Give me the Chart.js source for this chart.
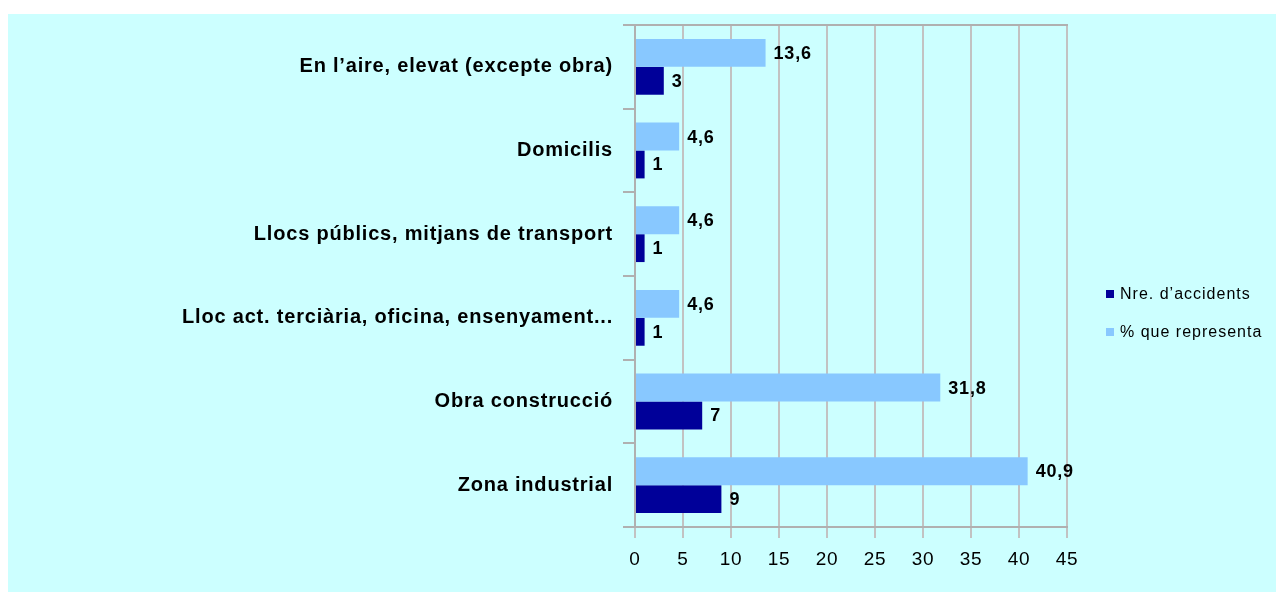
<!DOCTYPE html>
<html>
<head>
<meta charset="utf-8">
<script src="https://cdn.jsdelivr.net/npm/chart.js@4.4.1/dist/chart.umd.min.js"></script>
<style>
  html, body { margin: 0; padding: 0; background: #ffffff; }
  #wrap { width: 1276px; height: 592px; }
</style>
</head>
<body>
<div id="wrap"><canvas id="c" width="1276" height="592"></canvas></div>
<script>
const categories = [
  "En l\u2019aire, elevat (excepte obra)",
  "Domicilis",
  "Llocs públics, mitjans de transport",
  "Lloc act. terciària, oficina, ensenyament...",
  "Obra construcció",
  "Zona industrial"
];
const seriesNames = ["Nre. d\u2019accidents", "% que representa"];
const nreAccidents = [3, 1, 1, 1, 7, 9];
const percentatge = [13.6, 4.6, 4.6, 4.6, 31.8, 40.9];
const xTicks = [0, 5, 10, 15, 20, 25, 30, 35, 40, 45];

const DARK = '#000099';
const LIGHT = '#88C8FF';
const GRID = '#c2c2c2';
const BORDER = '#b0b0b0';
const FONT = 'Arial, "Liberation Sans", sans-serif';

const spacingPlugin = {
  id: 'spacing',
  beforeInit(chart) { chart.ctx.letterSpacing = '0.8px'; },
  beforeUpdate(chart) { chart.ctx.letterSpacing = '0.8px'; },
  beforeLayout(chart) { chart.ctx.letterSpacing = '0.8px'; },
  beforeDraw(chart) {
    const ctx = chart.ctx;
    ctx.letterSpacing = '0.8px';
    ctx.save();
    ctx.fillStyle = '#ffffff';
    ctx.fillRect(0, 0, chart.width, chart.height);
    ctx.fillStyle = '#CCFFFF';
    ctx.fillRect(8, 14, chart.width - 8, chart.height - 14);
    ctx.restore();
  }
};

const valueLabelPlugin = {
  id: 'valueLabels',
  afterDatasetsDraw(chart) {
    const ctx = chart.ctx;
    ctx.save();
    ctx.letterSpacing = '0.8px';
    ctx.font = 'bold 18px ' + FONT;
    ctx.fillStyle = '#000000';
    ctx.textAlign = 'left';
    ctx.textBaseline = 'middle';
    chart.data.datasets.forEach((ds, di) => {
      const meta = chart.getDatasetMeta(di);
      meta.data.forEach((el, i) => {
        const v = ds.data[i];
        const txt = String(v).replace('.', ',');
        ctx.fillText(txt, el.x + 8, el.y + 1);
      });
    });
    ctx.restore();
  }
};

const legendPlugin = {
  id: 'customLegend',
  afterDraw(chart) {
    const ctx = chart.ctx;
    ctx.save();
    ctx.letterSpacing = '1px';
    ctx.font = '16px ' + FONT;
    ctx.textAlign = 'left';
    ctx.textBaseline = 'middle';
    const order = [1, 0];
    const ys = [294, 332];
    order.forEach((di, k) => {
      const ds = chart.data.datasets[di];
      ctx.fillStyle = ds.backgroundColor;
      ctx.fillRect(1106, ys[k] - 4, 8, 8);
      ctx.fillStyle = '#000000';
      ctx.fillText(ds.label, 1120, ys[k] + 1);
    });
    ctx.restore();
  }
};

new Chart(document.getElementById('c'), {
  type: 'bar',
  data: {
    labels: categories,
    datasets: [
      { label: seriesNames[1], data: percentatge, backgroundColor: LIGHT, borderWidth: 0,
        categoryPercentage: 0.667, barPercentage: 1.0 },
      { label: seriesNames[0], data: nreAccidents, backgroundColor: DARK, borderWidth: 0,
        categoryPercentage: 0.667, barPercentage: 1.0 }
    ]
  },
  options: {
    indexAxis: 'y',
    responsive: false,
    animation: false,
    layout: { padding: { top: 25, right: 209, left: 0, bottom: 0 } },
    plugins: {
      legend: { display: false },
      tooltip: { enabled: false }
    },
    scales: {
      x: {
        type: 'linear',
        position: 'bottom',
        min: 0,
        max: 45,
        afterBuildTicks(scale) { scale.ticks = xTicks.map(v => ({ value: v })); },
        afterFit(scale) { scale.height = 65; },
        grid: { color: GRID, lineWidth: 2, tickLength: 11, tickColor: GRID, drawTicks: true },
        border: { display: true, color: BORDER, width: 2 },
        ticks: { font: { family: FONT, size: 19 }, color: '#000000', padding: 10, maxRotation: 0 }
      },
      x2: {
        type: 'linear',
        position: 'top',
        min: 0,
        max: 45,
        afterFit(scale) { scale.height = 0; },
        grid: { display: false, drawTicks: false },
        border: { display: true, color: BORDER, width: 2 },
        ticks: { display: false }
      },
      y: {
        type: 'category',
        position: 'left',
        afterFit(scale) { scale.width = 635; },
        grid: { display: true, drawOnChartArea: false, offset: true, tickLength: 12, color: BORDER, lineWidth: 2 },
        border: { display: true, color: BORDER, width: 2 },
        ticks: { font: { family: FONT, size: 20, weight: 'bold' }, color: '#000000', padding: 10 }
      }
    }
  },
  plugins: [spacingPlugin, valueLabelPlugin, legendPlugin]
});
</script>
</body>
</html>
